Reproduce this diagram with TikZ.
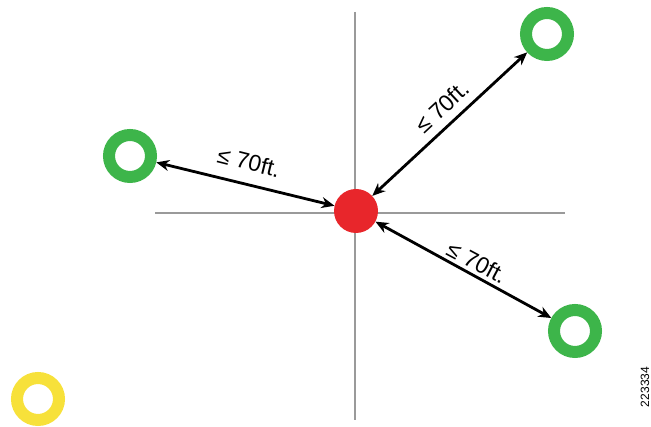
\documentclass[tikz,border=0pt]{standalone}
\usepackage{fontspec}
\setmainfont{Liberation Sans}
\usetikzlibrary{arrows.meta}
\definecolor{ringgreen}{HTML}{3DB54A}
\definecolor{ringyellow}{HTML}{F7E13A}
\definecolor{dotred}{HTML}{E8262B}
\definecolor{axisgray}{HTML}{9A9A9A}
\tikzset{
  ring/.style={circle, draw=#1, line width=12pt, minimum size=42pt, inner sep=0pt, outer sep=6pt},
  hub/.style={circle, fill=dotred, minimum size=44pt, inner sep=0pt},
  axis/.style={draw=axisgray, line width=2.4pt},
  dist/.style={{Stealth[length=13pt,width=11pt]}-{Stealth[length=13pt,width=11pt]}, line width=2.8pt, black},
  distlabel/.style={font=\fontsize{23}{23}\selectfont, inner sep=0pt}
}
\begin{document}
\begin{tikzpicture}[x=1pt,y=1pt]
  \useasboundingbox (0,0) rectangle (651,427);
  % crosshair axes through the hub
  \coordinate (vtop) at (355,415);
  \coordinate (vbot) at (355,7);
  \coordinate (hl) at (155,214);
  \coordinate (hr) at (565,214);
  \draw[axis] (vtop) -- (vbot);
  \draw[axis] (hl) -- (hr);
  % hub and surrounding stations
  \node[hub] (hub) at (356,216) {};
  \node[ring=ringgreen] (nw) at (130,271) {};
  \node[ring=ringgreen] (ne) at (547,393) {};
  \node[ring=ringgreen] (se) at (575,96) {};
  \node[ring=ringyellow] (far) at (38,28) {};
  % distance arrows
  \draw[dist] (nw) -- (hub);
  \draw[dist] (hub) -- (ne);
  \draw[dist] (hub) -- (se);
  \node[distlabel, rotate=-14] (lnw) at (249,265) {≤ 70ft.};
  \node[distlabel, rotate=43] (lne) at (442,320) {≤ 70ft.};
  \node[distlabel, rotate=-28] (lse) at (477,165) {≤ 70ft.};
  % figure number
  \node[font=\fontsize{12}{12}\selectfont, rotate=90, inner sep=0pt] (fignum) at (645,40) {223334};
\end{tikzpicture}
\end{document}
